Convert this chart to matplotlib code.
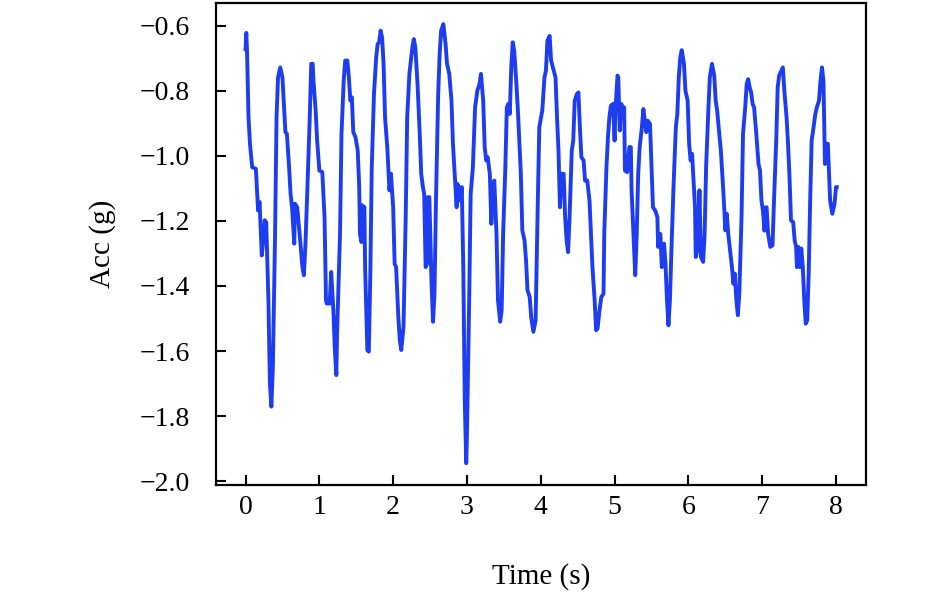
import matplotlib
matplotlib.use("Agg")
import matplotlib.pyplot as plt
import numpy as np

plt.rcParams['font.family'] = ['Liberation Serif', 'DejaVu Serif']
plt.rcParams['axes.unicode_minus'] = True

# time (s) and acceleration (g)
time_s = [
    0.00, 0.01, 0.01, 0.02, 0.04, 0.06, 0.09, 0.14, 0.17, 0.19, 0.22, 0.24, 0.26, 0.28, 0.31,
    0.33, 0.35, 0.37, 0.40, 0.42, 0.44, 0.47, 0.50, 0.52, 0.54, 0.56, 0.59, 0.61, 0.63, 0.66,
    0.67, 0.70, 0.74, 0.77, 0.79, 0.81, 0.84, 0.87, 0.89, 0.91, 0.92, 0.95, 0.97, 1.00, 1.04,
    1.07, 1.09, 1.10, 1.14, 1.16, 1.19, 1.21, 1.23, 1.24, 1.28, 1.30, 1.33, 1.35, 1.38, 1.40,
    1.42, 1.44, 1.46, 1.49, 1.52, 1.54, 1.55, 1.57, 1.58, 1.61, 1.62, 1.65, 1.67, 1.69, 1.71,
    1.74, 1.77, 1.79, 1.81, 1.83, 1.85, 1.87, 1.89, 1.92, 1.95, 1.97, 2.00, 2.02, 2.04, 2.07,
    2.09, 2.11, 2.14, 2.17, 2.19, 2.22, 2.26, 2.28, 2.30, 2.33, 2.36, 2.38, 2.40, 2.42, 2.44,
    2.46, 2.47, 2.49, 2.52, 2.54, 2.56, 2.58, 2.61, 2.63, 2.65, 2.68, 2.71, 2.73, 2.76, 2.79,
    2.81, 2.84, 2.86, 2.87, 2.89, 2.91, 2.93, 2.95, 2.97, 2.99, 3.00, 3.03, 3.05, 3.08, 3.11,
    3.14, 3.17, 3.19, 3.22, 3.24, 3.26, 3.28, 3.31, 3.33, 3.35, 3.37, 3.40, 3.42, 3.45, 3.47,
    3.49, 3.52, 3.54, 3.56, 3.58, 3.60, 3.62, 3.64, 3.67, 3.69, 3.73, 3.75, 3.78, 3.80, 3.82,
    3.85, 3.87, 3.90, 3.93, 3.96, 3.98, 4.02, 4.05, 4.07, 4.09, 4.12, 4.14, 4.17, 4.20, 4.22,
    4.24, 4.26, 4.28, 4.31, 4.33, 4.35, 4.37, 4.39, 4.42, 4.44, 4.46, 4.49, 4.51, 4.53, 4.55,
    4.58, 4.60, 4.63, 4.66, 4.68, 4.70, 4.73, 4.75, 4.77, 4.79, 4.82, 4.85, 4.86, 4.89, 4.91,
    4.93, 4.95, 4.98, 5.00, 5.01, 5.04, 5.05, 5.07, 5.09, 5.11, 5.13, 5.14, 5.17, 5.20, 5.22,
    5.23, 5.26, 5.28, 5.30, 5.32, 5.34, 5.37, 5.39, 5.41, 5.43, 5.45, 5.48, 5.50, 5.52, 5.55,
    5.58, 5.59, 5.62, 5.64, 5.67, 5.69, 5.71, 5.73, 5.75, 5.77, 5.80, 5.83, 5.85, 5.87, 5.89,
    5.91, 5.94, 5.96, 5.99, 6.01, 6.03, 6.05, 6.07, 6.09, 6.10, 6.13, 6.15, 6.17, 6.20, 6.22,
    6.24, 6.27, 6.29, 6.32, 6.35, 6.37, 6.39, 6.41, 6.44, 6.47, 6.49, 6.50, 6.52, 6.54, 6.57,
    6.59, 6.61, 6.63, 6.65, 6.67, 6.69, 6.72, 6.74, 6.77, 6.79, 6.81, 6.83, 6.85, 6.87, 6.89,
    6.92, 6.95, 6.97, 6.99, 7.01, 7.03, 7.05, 7.06, 7.08, 7.11, 7.14, 7.16, 7.19, 7.21, 7.23,
    7.26, 7.28, 7.30, 7.33, 7.35, 7.37, 7.39, 7.42, 7.44, 7.46, 7.47, 7.49, 7.51, 7.53, 7.55,
    7.57, 7.59, 7.61, 7.63, 7.65, 7.67, 7.69, 7.72, 7.74, 7.77, 7.79, 7.81, 7.83, 7.85, 7.87,
    7.89, 7.91, 7.92, 7.95, 7.98, 8.00, 8.01,
]
acc_g = [
    -0.672, -0.626, -0.622, -0.677, -0.881, -0.963, -1.035, -1.040, -1.168, -1.142, -1.306, -1.260, -1.198, -1.204, -1.444,
    -1.700, -1.771, -1.649, -1.240, -0.881, -0.759, -0.728, -0.759, -0.840, -0.927, -0.932, -1.035, -1.117, -1.158, -1.270,
    -1.147, -1.158, -1.260, -1.342, -1.367, -1.280, -1.086, -0.881, -0.717, -0.717, -0.769, -0.861, -0.953, -1.045, -1.050,
    -1.188, -1.444, -1.454, -1.454, -1.357, -1.475, -1.597, -1.674, -1.546, -1.240, -0.932, -0.769, -0.707, -0.707, -0.759,
    -0.830, -0.820, -0.927, -0.943, -0.984, -1.096, -1.240, -1.265, -1.152, -1.158, -1.342, -1.597, -1.602, -1.372, -1.035,
    -0.810, -0.697, -0.656, -0.651, -0.615, -0.636, -0.717, -0.881, -0.973, -1.106, -1.055, -1.158, -1.332, -1.342, -1.495,
    -1.567, -1.597, -1.526, -1.188, -0.881, -0.748, -0.666, -0.641, -0.666, -0.779, -0.932, -1.055, -1.091, -1.117, -1.342,
    -1.332, -1.127, -1.127, -1.393, -1.510, -1.423, -1.137, -0.810, -0.687, -0.615, -0.595, -0.656, -0.717, -0.748, -0.830,
    -0.963, -1.081, -1.158, -1.086, -1.096, -1.137, -1.096, -1.342, -1.751, -1.945, -1.853, -1.444, -1.117, -1.035, -0.851,
    -0.800, -0.779, -0.748, -0.830, -0.973, -1.014, -1.004, -1.055, -1.209, -1.117, -1.076, -1.240, -1.444, -1.510, -1.475,
    -1.240, -1.035, -0.851, -0.840, -0.871, -0.728, -0.651, -0.677, -0.779, -0.861, -1.055, -1.229, -1.260, -1.321, -1.413,
    -1.434, -1.495, -1.541, -1.506, -1.137, -0.912, -0.861, -0.759, -0.738, -0.646, -0.631, -0.707, -0.733, -0.759, -0.881,
    -0.984, -1.158, -1.055, -1.055, -1.188, -1.260, -1.296, -1.188, -0.984, -0.953, -0.830, -0.810, -0.805, -0.912, -1.004,
    -1.014, -1.076, -1.076, -1.137, -1.240, -1.342, -1.444, -1.536, -1.531, -1.485, -1.434, -1.424, -1.240, -1.035, -0.943,
    -0.881, -0.846, -0.840, -0.953, -0.861, -0.753, -0.759, -0.922, -0.840, -0.851, -0.851, -1.045, -1.050, -0.973, -0.973,
    -1.106, -1.260, -1.367, -1.240, -1.055, -0.973, -0.912, -0.856, -0.892, -0.927, -0.892, -0.902, -1.035, -1.158, -1.168,
    -1.188, -1.280, -1.240, -1.342, -1.270, -1.332, -1.444, -1.521, -1.444, -1.290, -1.086, -0.912, -0.871, -0.759, -0.697,
    -0.675, -0.717, -0.800, -0.830, -0.963, -1.014, -0.994, -1.076, -1.158, -1.311, -1.280, -1.106, -1.311, -1.326, -1.240,
    -1.035, -0.861, -0.759, -0.717, -0.753, -0.830, -0.861, -0.912, -0.984, -1.096, -1.178, -1.229, -1.178, -1.240, -1.301,
    -1.342, -1.393, -1.362, -1.444, -1.490, -1.424, -1.188, -0.932, -0.851, -0.779, -0.764, -0.789, -0.805, -0.840, -0.851,
    -0.932, -1.025, -1.045, -1.137, -1.168, -1.230, -1.158, -1.158, -1.240, -1.280, -1.275, -1.137, -0.953, -0.789, -0.753,
    -0.738, -0.728, -0.800, -0.881, -0.963, -1.065, -1.198, -1.204, -1.260, -1.280, -1.342, -1.280, -1.342, -1.285, -1.342,
    -1.444, -1.516, -1.506, -1.362, -1.137, -0.953, -0.922, -0.871, -0.851, -0.830, -0.769, -0.728, -0.769, -1.025, -0.963,
    -0.963, -1.076, -1.137, -1.178, -1.147, -1.096, -1.096,
]

x_ticks = [0, 1, 2, 3, 4, 5, 6, 7, 8]
y_ticks = [-2.0, -1.8, -1.6, -1.4, -1.2, -1.0, -0.8, -0.6]

fig = plt.figure(figsize=(9.45, 5.96), dpi=100)
ax = fig.add_axes([0.2286, 0.1862, 0.6873, 0.8088])

ax.plot(time_s, acc_g, color='#1e3cf0', lw=2.8, solid_joinstyle='round')

ax.set_xlim(-0.4, 8.4)
ax.set_ylim(-2.012, -0.53)
ax.set_xticks(x_ticks)
ax.set_yticks(y_ticks)
# one decimal with a real minus sign
ax.yaxis.set_major_formatter(plt.FuncFormatter(lambda v, p: ('%.1f' % v).replace('-', '\u2212')))

ax.tick_params(direction='in', length=7, width=1.5, labelsize=20,
               top=False, right=False)
ax.tick_params(axis='x', pad=7)
ax.tick_params(axis='y', pad=19)
for sp in ax.spines.values():
    sp.set_linewidth(1.6)

ax.set_xlabel('Time (s)', fontsize=21, labelpad=31)
ax.set_ylabel('Acc (g)', fontsize=21, labelpad=17)

fig.savefig('out.png', dpi=100)
